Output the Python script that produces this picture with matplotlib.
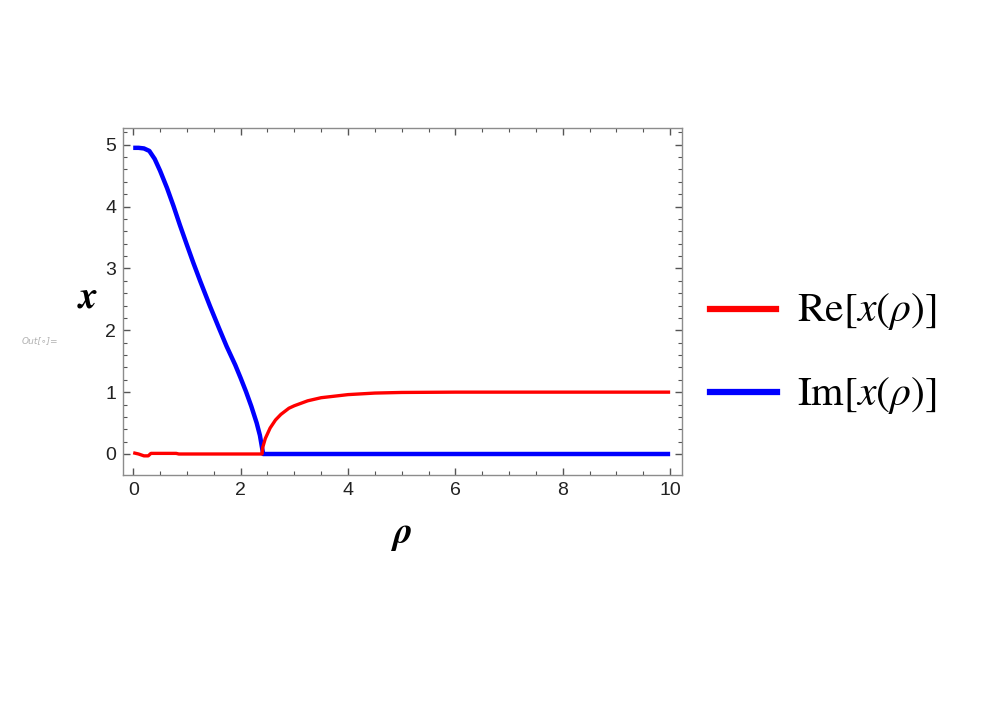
import numpy as np
import matplotlib.pyplot as plt

# data ---------------------------------------------------------------------
rho_im = [0.0, 0.1, 0.2, 0.3, 0.4, 0.5, 0.63, 0.75, 0.87, 1.0, 1.12, 1.25,
          1.43, 1.6, 1.74, 1.9, 2.0, 2.1, 2.2, 2.3, 2.36, 2.40,
          2.42, 2.5, 4.0, 6.0, 8.0, 10.0]
im_x = [4.95, 4.95, 4.94, 4.90, 4.77, 4.58, 4.30, 4.01, 3.70, 3.38, 3.09, 2.79,
        2.39, 2.03, 1.74, 1.44, 1.23, 1.01, 0.77, 0.50, 0.30, 0.1,
        0.0, 0.0, 0.0, 0.0, 0.0, 0.0]

rho_re = [0.0, 0.1, 0.2, 0.28, 0.33, 0.8, 0.85, 2.4, 2.41, 2.46, 2.55, 2.65,
          2.75, 2.9, 3.0, 3.25, 3.5, 4.0, 4.5, 5.0, 6.0, 8.0, 10.0]
re_x = [0.02, 0.0, -0.03, -0.03, 0.01, 0.01, 0.0, 0.0, 0.1, 0.25, 0.42, 0.55,
        0.64, 0.74, 0.78, 0.86, 0.91, 0.96, 0.985, 0.995, 1.0, 1.0, 1.0]

fig = plt.figure(figsize=(9.96, 7.05), dpi=100)
ax = fig.add_axes([0.1235, 0.3262, 0.5612, 0.4922])

ax.plot(rho_re, re_x, color="#ff0000", lw=2.4, solid_capstyle="butt", zorder=3)
ax.plot(rho_im, im_x, color="#0000ff", lw=3.2, solid_capstyle="butt", zorder=2)

ax.set_xlim(-0.19, 10.22)
ax.set_ylim(-0.34, 5.27)
ax.set_xticks([0, 2, 4, 6, 8, 10])
ax.set_yticks([0, 1, 2, 3, 4, 5])
ax.set_xticks(np.arange(0, 10.01, 0.5), minor=True)
ax.set_yticks(np.arange(0, 5.21, 0.2), minor=True)

for s in ax.spines.values():
    s.set_color("#8c8c8c")
    s.set_linewidth(1.0)
ax.tick_params(which="both", direction="in", top=True, right=True,
               color="#555555", labelsize=14, labelcolor="#222222")
ax.tick_params(which="major", length=5, width=1.0, pad=5)
ax.tick_params(which="minor", length=3, width=0.8)
for lab in ax.get_xticklabels() + ax.get_yticklabels():
    lab.set_family("Liberation Sans")

# axis labels
fig.text(88 / 996, 1 - 298 / 705, "x", family="STIXGeneral", style="italic",
         weight="bold", fontsize=27, ha="center", va="center")
fig.text(402 / 996, 1 - 533 / 705, "ρ", family="STIXGeneral", style="italic",
         weight="bold", fontsize=27, ha="center", va="center")
fig.text(40 / 996, 1 - 341 / 705, "Out[\u2218]=", family="DejaVu Sans", style="italic",
         fontsize=6.5, color="#b0b0b0", ha="center", va="center")

# legend
plt.rcParams["mathtext.fontset"] = "stix"
fig.add_artist(plt.Line2D([710 / 996, 776 / 996], [1 - 309 / 705] * 2,
                          color="#ff0000", lw=4.5))
fig.add_artist(plt.Line2D([710 / 996, 777 / 996], [1 - 392 / 705] * 2,
                          color="#0000ff", lw=4.5))
fig.text(797 / 996, 1 - 311 / 705, r"$\mathrm{Re}[x(\rho)]$", fontsize=30,
         ha="left", va="center")
fig.text(797 / 996, 1 - 395 / 705, r"$\mathrm{Im}[x(\rho)]$", fontsize=30,
         ha="left", va="center")

fig.savefig("out.png", dpi=100)
